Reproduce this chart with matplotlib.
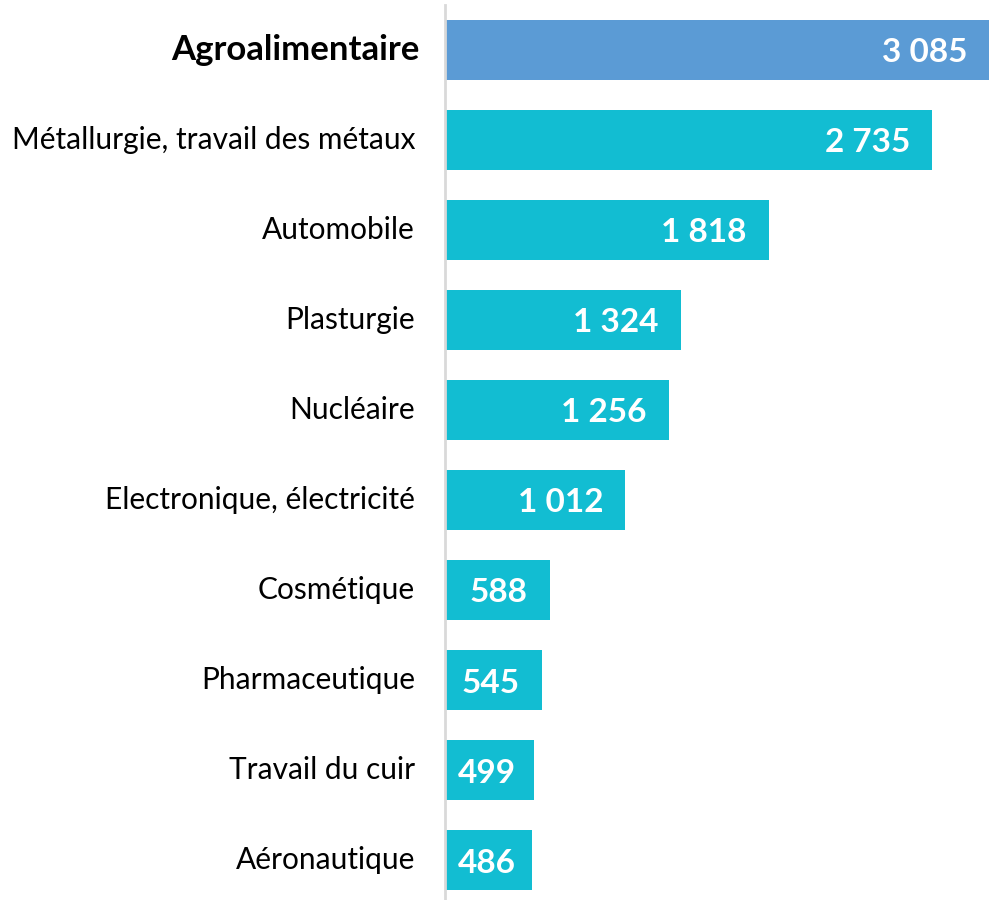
import matplotlib
matplotlib.use("Agg")
import matplotlib.pyplot as plt

categories = ["Agroalimentaire", "Métallurgie, travail des métaux", "Automobile",
              "Plasturgie", "Nucléaire", "Electronique, électricité", "Cosmétique",
              "Pharmaceutique", "Travail du cuir", "Aéronautique"]
values = [3085, 2735, 1818, 1324, 1256, 1012, 588, 545, 499, 486]
labels = ["3 085", "2 735", "1 818", "1 324", "1 256", "1 012", "588", "545", "499", "486"]

W, H = 989, 900
fig = plt.figure(figsize=(W / 100, H / 100), dpi=100)
ax = fig.add_axes([445 / W, 0, 1 - 445 / W, 895 / H])

colors = ["#5B9BD5"] + ["#12BDD2"] * (len(values) - 1)
ypos = list(range(len(values)))
ax.barh(ypos, values, height=0.667, color=colors, zorder=2)

xmax = (989 - 445) / ((932 - 445) / 2735)
ax.set_xlim(0, xmax)
ax.set_ylim(9.44, -0.5)

for s in ["top", "right", "bottom"]:
    ax.spines[s].set_visible(False)
ax.spines["left"].set_color("#D9D9D9")
ax.spines["left"].set_linewidth(2)
ax.spines["left"].set_zorder(3)
ax.set_xticks([])
ax.set_yticks(ypos)
ax.set_yticklabels([])
ax.tick_params(axis="y", length=0)

px_per_unit = (W - 445) / xmax
for i, (c, v, lab) in enumerate(zip(categories, values, labels)):
    off = -25 if i == 0 else -30
    ax.text(off / px_per_unit, i, c, ha="right", va="center",
            fontsize=25 if i == 0 else 21.5, fontweight="bold" if i == 0 else "normal",
            family="Lato", color="black")
    end_px = min(v * px_per_unit, W - 445) - 22
    txt = ax.text(end_px / px_per_unit, i + 0.03, lab, ha="right", va="center",
                  fontsize=24, fontweight="bold", family="Lato", color="white", zorder=4)
    fig.canvas.draw()
    bb = txt.get_window_extent()
    left_px = bb.x0 - 445
    if left_px < 13:
        txt.set_ha("left")
        txt.set_x(13 / px_per_unit)

fig.savefig("out.png", dpi=100)
